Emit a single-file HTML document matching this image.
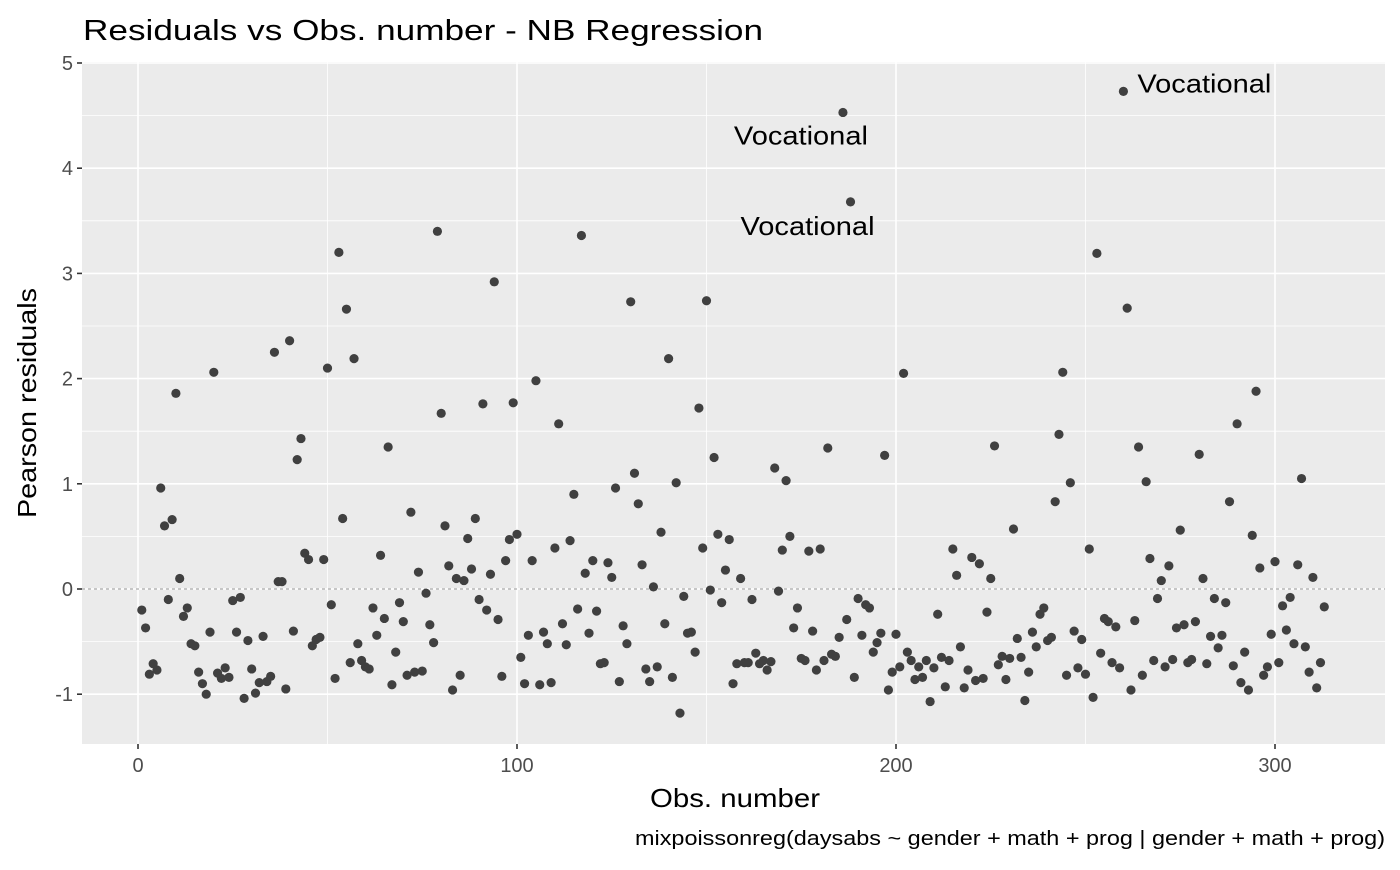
<!DOCTYPE html>
<html><head><meta charset="utf-8"><style>
body{margin:0;background:#fff}
svg text{font-family:"Liberation Sans",Arial,sans-serif}
</style></head><body>
<svg id="chart" width="1400" height="865" xmlns="http://www.w3.org/2000/svg">
<text x="83" y="40" font-size="29" fill="#000" textLength="680" lengthAdjust="spacingAndGlyphs">Residuals vs Obs. number - NB Regression</text>
<rect x="82" y="62" width="1303" height="682" fill="#ebebeb"/>
<g id="grid"></g>
<g id="axes"></g>
<g id="points"></g>
<g id="labels"></g>
<text x="735" y="807" font-size="26" text-anchor="middle" fill="#000" textLength="170" lengthAdjust="spacingAndGlyphs">Obs. number</text>
<text transform="translate(36,403) rotate(-90)" font-size="26" text-anchor="middle" fill="#000" textLength="230" lengthAdjust="spacingAndGlyphs">Pearson residuals</text>
<text x="1385" y="845" font-size="20" text-anchor="end" fill="#000" textLength="750" lengthAdjust="spacingAndGlyphs">mixpoissonreg(daysabs ~ gender + math + prog | gender + math + prog)</text>
</svg>
<script>
const residuals = [-0.2,-0.37,-0.81,-0.71,-0.77,0.96,0.6,-0.1,0.66,1.86,0.1,-0.26,-0.18,-0.52,-0.54,-0.79,-0.9,-1.0,-0.41,2.06,
-0.8,-0.85,-0.75,-0.84,-0.11,-0.41,-0.08,-1.04,-0.49,-0.76,-0.99,-0.89,-0.45,-0.88,-0.83,2.25,0.07,0.07,-0.95,2.36,
-0.4,1.23,1.43,0.34,0.28,-0.54,-0.48,-0.46,0.28,2.1,-0.15,-0.85,3.2,0.67,2.66,-0.7,2.19,-0.52,-0.68,-0.74,
-0.76,-0.18,-0.44,0.32,-0.28,1.35,-0.91,-0.6,-0.13,-0.31,-0.82,0.73,-0.79,0.16,-0.78,-0.04,-0.34,-0.51,3.4,1.67,
0.6,0.22,-0.96,0.1,-0.82,0.08,0.48,0.19,0.67,-0.1,1.76,-0.2,0.14,2.92,-0.29,-0.83,0.27,0.47,1.77,0.52,
-0.65,-0.9,-0.44,0.27,1.98,-0.91,-0.41,-0.52,-0.89,0.39,1.57,-0.33,-0.53,0.46,0.9,-0.19,3.36,0.15,-0.42,0.27,
-0.21,-0.71,-0.7,0.25,0.11,0.96,-0.88,-0.35,-0.52,2.73,1.1,0.81,0.23,-0.76,-0.88,0.02,-0.74,0.54,-0.33,2.19,
-0.84,1.01,-1.18,-0.07,-0.42,-0.41,-0.6,1.72,0.39,2.74,-0.01,1.25,0.52,-0.13,0.18,0.47,-0.9,-0.71,0.1,-0.7,
-0.7,-0.1,-0.61,-0.71,-0.68,-0.77,-0.69,1.15,-0.02,0.37,1.03,0.5,-0.37,-0.18,-0.66,-0.68,0.36,-0.4,-0.77,0.38,
-0.68,1.34,-0.62,-0.64,-0.46,4.53,-0.29,3.68,-0.84,-0.09,-0.44,-0.15,-0.18,-0.6,-0.51,-0.42,1.27,-0.96,-0.79,-0.43,
-0.74,2.05,-0.6,-0.68,-0.86,-0.74,-0.84,-0.68,-1.07,-0.75,-0.24,-0.65,-0.93,-0.68,0.38,0.13,-0.55,-0.94,-0.77,0.3,
-0.87,0.24,-0.85,-0.22,0.1,1.36,-0.72,-0.64,-0.86,-0.66,0.57,-0.47,-0.65,-1.06,-0.79,-0.41,-0.55,-0.24,-0.18,-0.49,
-0.46,0.83,1.47,2.06,-0.82,1.01,-0.4,-0.75,-0.48,-0.81,0.38,-1.03,3.19,-0.61,-0.28,-0.31,-0.7,-0.36,-0.75,4.73,
2.67,-0.96,-0.3,1.35,-0.82,1.02,0.29,-0.68,-0.09,0.08,-0.74,0.22,-0.67,-0.37,0.56,-0.34,-0.7,-0.67,-0.31,1.28,
0.1,-0.71,-0.45,-0.09,-0.56,-0.44,-0.13,0.83,-0.73,1.57,-0.89,-0.6,-0.96,0.51,1.88,0.2,-0.82,-0.74,-0.43,0.26,
-0.7,-0.16,-0.39,-0.08,-0.52,0.23,1.05,-0.55,-0.79,0.11,-0.94,-0.7,-0.17];
const xTicks = [0,100,200,300];
const xMinor = [50,150,250];
const yTicks = [-1,0,1,2,3,4,5];
const yMinor = [-0.5,0.5,1.5,2.5,3.5,4.5];
const labelObs = [186,188,260];
const labelText = ["Vocational","Vocational","Vocational"];
const labelDx = [-42,-43,81];
const labelDy = [32,33,1];

const NS="http://www.w3.org/2000/svg";
const xs = v => 138 + v*3.79;
const ys = v => 589 - v*105.2;
const L=82,R=1385,T=62,B=744;
function mk(tag,attrs,parent){const e=document.createElementNS(NS,tag);for(const k in attrs)e.setAttribute(k,attrs[k]);document.getElementById(parent).appendChild(e);return e;}
yMinor.forEach(v=>{const e=mk('line',{x1:L,x2:R,y1:ys(v),y2:ys(v),stroke:'#fff','stroke-width':0.8},'grid');

});
xMinor.forEach(v=>{const e=mk('line',{x1:xs(v),x2:xs(v),y1:T,y2:B,stroke:'#fff','stroke-width':0.8},'grid');

});
yTicks.forEach(v=>{const e=mk('line',{x1:L,x2:R,y1:ys(v),y2:ys(v),stroke:'#fff','stroke-width':1.6},'grid');


const t=mk('line',{x1:L-5,x2:L,y1:ys(v),y2:ys(v),stroke:'#333','stroke-width':1.6},'axes');


const l=mk('text',{x:L-9,y:ys(v)+7,'font-size':20,'text-anchor':'end',fill:'#4d4d4d'},'axes');


l.textContent=v;});
xTicks.forEach(v=>{const e=mk('line',{x1:xs(v),x2:xs(v),y1:T,y2:B,stroke:'#fff','stroke-width':1.6},'grid');


const t=mk('line',{x1:xs(v),x2:xs(v),y1:B,y2:B+5,stroke:'#333','stroke-width':1.6},'axes');


const l=mk('text',{x:xs(v),y:B+28,'font-size':20,'text-anchor':'middle',fill:'#4d4d4d'},'axes');


l.textContent=v;});
const z=mk('line',{x1:L,x2:R,y1:ys(0),y2:ys(0),stroke:'#777','stroke-width':0.8,'stroke-dasharray':'3,3'},'grid');


residuals.forEach((r,i)=>{const c=mk('circle',{cx:xs(i+1),cy:ys(r),r:4.6,fill:'#404040'},'points');

});
labelObs.forEach((o,i)=>{const t=mk('text',{x:xs(o)+labelDx[i],y:ys(residuals[o-1])+labelDy[i],'font-size':26,'text-anchor':'middle',fill:'#000',textLength:134,lengthAdjust:'spacingAndGlyphs'},'labels');


t.textContent=labelText[i];});
</script>
</body></html>
